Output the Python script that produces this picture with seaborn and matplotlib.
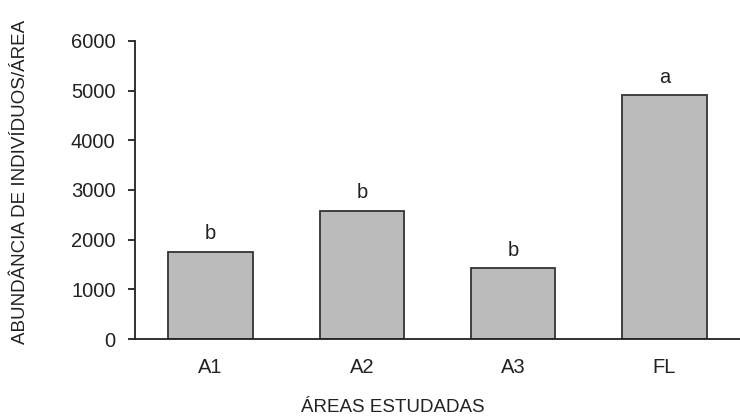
import matplotlib
matplotlib.use("Agg")
import matplotlib.pyplot as plt
import seaborn as sns
import pandas as pd

# data
areas = ["A1", "A2", "A3", "FL"]
abundancia = [1760, 2580, 1420, 4910]
letras = ["b", "b", "b", "a"]

sns.set_style("white")
plt.rcParams["font.family"] = ["Liberation Sans", "DejaVu Sans"]

df = pd.DataFrame({"area": areas, "abund": abundancia})

fig = plt.figure(figsize=(7.4, 4.17), dpi=100)
ax = fig.add_axes([0.1824, 0.187, 0.8176, 0.715])

sns.barplot(data=df, x="area", y="abund", ax=ax, color="#bbbbbb",
            edgecolor="#333333", linewidth=1.3, width=0.56, saturation=1)

# significance letters above bars
for i, (v, l) in enumerate(zip(abundancia, letras)):
    ax.text(i, v + 170, l, ha="center", va="bottom", fontsize=14.5, color="#222222")

ax.set_ylim(0, 6000)
ax.set_xlim(-0.5, 3.5)
ax.set_yticks(range(0, 6001, 1000))
ax.set_xticks(range(len(areas)))
ax.set_xticklabels(areas)
ax.set_xticks([0.5, 1.5, 2.5], minor=True)
ax.tick_params(axis="x", which="major", length=0, pad=14, labelsize=14.5, colors="#222222")
ax.tick_params(axis="x", which="minor", length=5, width=1.3, direction="out", color="#222222")
ax.tick_params(axis="y", length=5, width=1.3, direction="out", pad=9, labelsize=14.5,
               colors="#222222", left=True)

for s in ["top", "right"]:
    ax.spines[s].set_visible(False)
for s in ["left", "bottom"]:
    ax.spines[s].set_color("#222222")
    ax.spines[s].set_linewidth(1.3)

ax.set_xlabel("")
ax.set_ylabel("")
fig.text(21 / 740, 1 - 182 / 417, "ABUNDÂNCIA DE INDIVÍDUOS/ÁREA", rotation=90,
         ha="center", va="center", fontsize=13.5, color="#222222")
fig.text(393 / 740, 1 - 407 / 417, "ÁREAS ESTUDADAS", ha="center", va="center",
         fontsize=13.5, color="#222222")

fig.savefig("out.png", dpi=100)
